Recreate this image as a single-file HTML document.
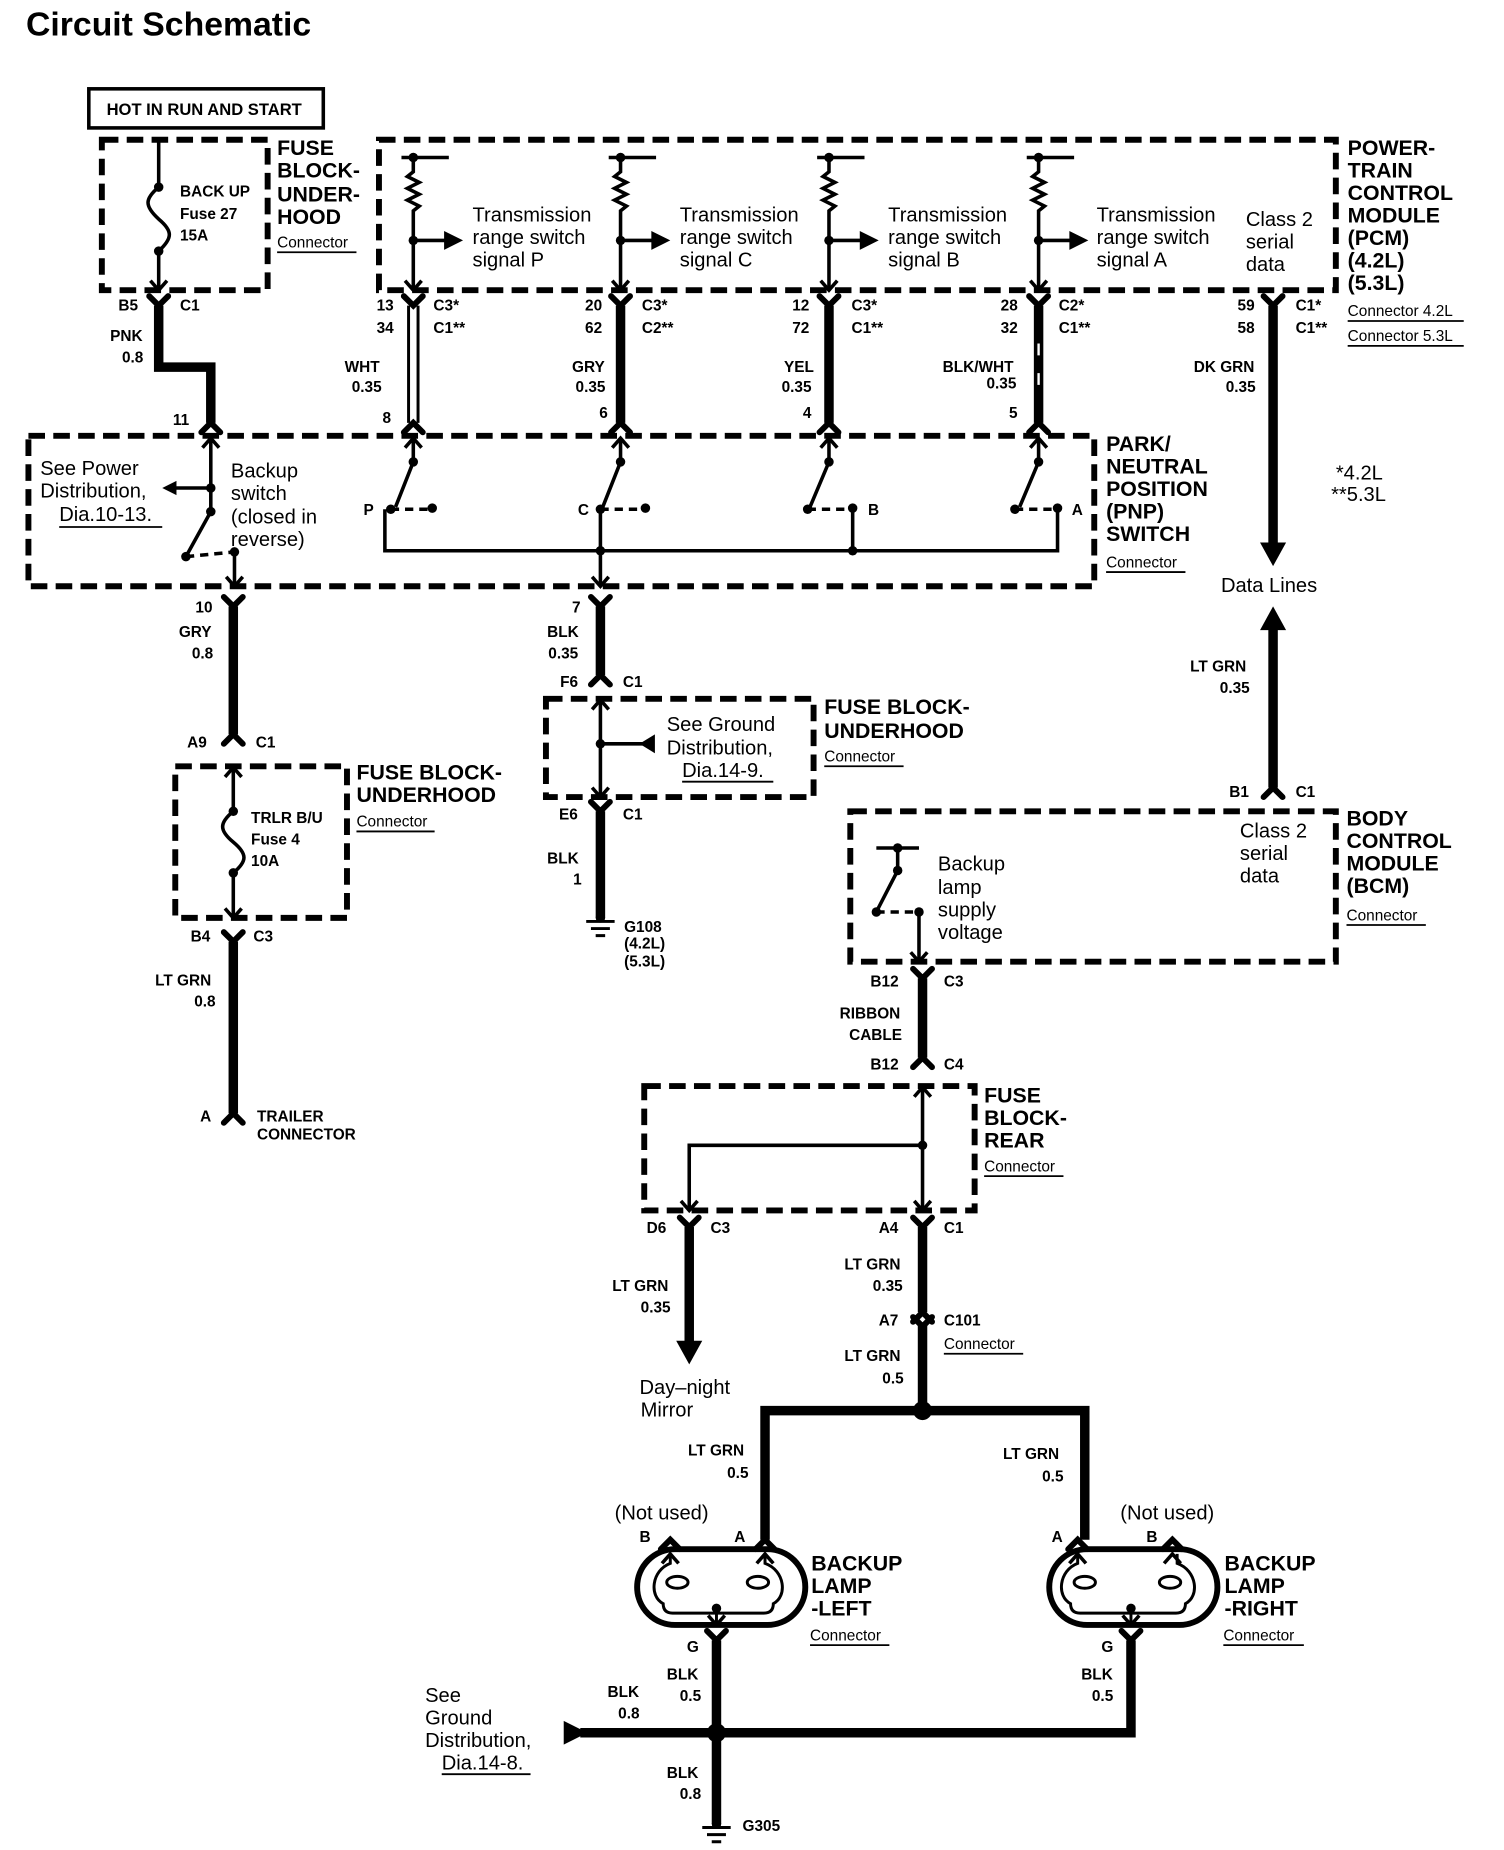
<!DOCTYPE html>
<html><head><meta charset="utf-8"><style>
html,body{margin:0;padding:0;background:#fff}
svg{display:block}
text{font-family:"Liberation Sans",Arial,sans-serif;fill:#000}
.s{font-size:13px;font-weight:bold}
.n{font-size:17px}
.b{font-size:18px;font-weight:bold}
.u{font-size:13px}
</style></head><body>
<svg width="1504" height="1850" viewBox="0 0 1270 1562" preserveAspectRatio="none" xmlns="http://www.w3.org/2000/svg">
<defs>
<path id="Y" d="M-8,-8 L0,0 L8,-8" fill="none" stroke="#000" stroke-width="5" stroke-linecap="round"/>
<path id="A" d="M-8,8 L0,0 L8,8" fill="none" stroke="#000" stroke-width="5" stroke-linecap="round"/>
<path id="up" d="M-7,8 L0,0 L7,8" fill="none" stroke="#000" stroke-width="3"/>
<path id="dn" d="M-7,-8 L0,0 L7,-8" fill="none" stroke="#000" stroke-width="3"/>
<g id="res"><line x1="-10" y1="133" x2="30" y2="133" stroke="#000" stroke-width="3"/><circle cx="0" cy="133" r="4"/>
<path d="M0,133 V145 l-5,4 l10,5 l-10,5 l10,5 l-10,5 l10,5 l-5,4 V245" fill="none" stroke="#000" stroke-width="3"/>
<circle cx="0" cy="203" r="4"/><line x1="0" y1="203" x2="28" y2="203" stroke="#000" stroke-width="3"/>
<path d="M26,195 L42,203 L26,211Z"/><use href="#dn" y="245"/></g>
</defs>
<g fill="none" stroke="#000">
<rect x="75" y="75" width="198" height="33" stroke-width="3"/>
<g stroke-width="5" stroke-dasharray="14 7">
<rect x="86" y="118" width="140" height="127"/>
<rect x="320" y="118" width="808" height="127"/>
<rect x="24" y="368" width="900" height="127"/>
<rect x="148" y="647" width="145" height="128"/>
<rect x="461" y="590" width="226" height="83"/>
<rect x="718" y="685" width="410" height="127"/>
<rect x="544" y="917" width="279" height="105"/>
</g>
<path d="M134,118 V158 M134,212 V245 M134,158 c-12,10 -12,16 0,27 c12,10 12,16 0,27" stroke-width="3"/>
<g stroke-width="8">
<path d="M134,258 V310 H178 V357"/>
<path d="M524,258 V357 M700,258 V357 M877,258 V357 M1075,258 V460 M1075,530 V665"/>
<path d="M197,512 V620 M197,795 V940 M507,512 V570 M507,685 V775 M779,826 V893"/>
<path d="M582,1036 V1135 M779,1036 V1108 M779,1118 V1191 M646,1300 V1191 H916 V1300"/>
<path d="M605,1385 V1540 M955,1385 V1463 H490"/>
</g>
<path d="M345,258 V357 M353,258 V357" stroke-width="2.5"/>
<path d="M877,290 V300 M877,315 V325" stroke="#fff" stroke-width="2"/>
<g stroke-width="3">
<path d="M178,370 V432 L157,470 M178,412 H146"/>
<path d="M157,470 L198,466" stroke-dasharray="7 5"/>
<path d="M198,466 V495"/>
<path d="M349,370 V390 L334,428 M524,370 V390 L509,428 M700,370 V390 L684,428 M877,370 V390 L861,428"/>
<path d="M330,430 H365 M507,430 H545 M682,430 H720 M857,430 H893" stroke-dasharray="7 5"/>
<path d="M325,430 V465 H893 V430 M507,430 V495 M720,430 V465"/>
<path d="M197,648 V685 M197,737 V775 M197,685 c-12,10 -12,16 0,26 c12,10 12,16 0,26"/>
<path d="M507,590 V673 M507,628 H545"/>
<path d="M740,716 H776 M758,716 V735 L740,770 M776,770 V812"/>
<path d="M740,770 L776,770" stroke-dasharray="7 5"/>
<path d="M779,917 V1022 M779,967 H582 V1022"/>
</g>
<g stroke-width="2.5"><path d="M495,778 H519 M499,784 H515 M503,790 H511 M593,1543 H617 M597,1549 H613 M601,1555 H609"/></g>
<rect x="538" y="1308" width="142" height="64" rx="32" stroke-width="5"/>
<rect x="886" y="1308" width="142" height="64" rx="32" stroke-width="5"/>
<g stroke-width="2.5">
<path d="M566,1312 V1320 c-16,6 -18,28 -6,34 q0,8 8,8 H645 q8,0 8,-8 c12,-6 10,-28 -7,-34 V1312"/>
<ellipse cx="572" cy="1336" rx="9" ry="5"/><ellipse cx="640" cy="1336" rx="9" ry="5"/>
<path d="M605,1358 V1372"/>
<path d="M910,1312 V1320 c-16,6 -18,28 -6,34 q0,8 8,8 H993 q8,0 8,-8 c12,-6 10,-28 -7,-34 V1312"/>
<ellipse cx="916" cy="1336" rx="9" ry="5"/><ellipse cx="988" cy="1336" rx="9" ry="5"/>
<path d="M955,1358 V1372"/>
</g>
<g stroke-width="1.5">
<path d="M234,213 H301 M1138,271 H1236 M1138,292 H1236 M934,483 H1001 M301,702 H367 M696,647 H763 M1137,781 H1204 M831,993 H898 M797,1143 H864 M684,1389 H751 M1033,1389 H1101"/>
<path d="M50,445 H137 M576,660 H653 M373,1498 H448"/>
</g>
</g>
<g>
<use href="#Y" x="134" y="258"/><use href="#Y" x="349" y="258"/><use href="#Y" x="524" y="258"/><use href="#Y" x="700" y="258"/><use href="#Y" x="877" y="258"/><use href="#Y" x="1075" y="258"/>
<use href="#A" x="178" y="357"/><use href="#A" x="349" y="357"/><use href="#A" x="524" y="357"/><use href="#A" x="700" y="357"/><use href="#A" x="877" y="357"/>
<use href="#Y" x="197" y="512"/><use href="#Y" x="507" y="512"/><use href="#A" x="197" y="620"/><use href="#Y" x="197" y="795"/><use href="#A" x="197" y="940"/>
<use href="#A" x="507" y="570"/><use href="#Y" x="507" y="685"/><use href="#A" x="1075" y="665"/>
<use href="#Y" x="779" y="826"/><use href="#A" x="779" y="893"/><use href="#Y" x="582" y="1036"/><use href="#Y" x="779" y="1036"/>
<use href="#A" x="779" y="1108"/><use href="#Y" x="779" y="1120"/>
<use href="#A" x="566" y="1300"/><use href="#A" x="646" y="1300"/><use href="#A" x="910" y="1300"/><use href="#A" x="990" y="1300"/>
<use href="#Y" x="605" y="1385"/><use href="#Y" x="955" y="1385"/>
<use href="#dn" x="134" y="245"/>
<use href="#res" x="349"/><use href="#res" x="524"/><use href="#res" x="700"/><use href="#res" x="877"/>
<use href="#up" x="178" y="370"/><use href="#up" x="349" y="370"/><use href="#up" x="524" y="370"/><use href="#up" x="700" y="370"/><use href="#up" x="877" y="370"/>
<use href="#dn" x="198" y="495"/><use href="#dn" x="507" y="495"/>
<use href="#up" x="197" y="648"/><use href="#dn" x="197" y="775"/>
<use href="#up" x="507" y="591"/><use href="#dn" x="507" y="673"/>
<use href="#dn" x="776" y="812"/><use href="#up" x="779" y="918"/><use href="#dn" x="779" y="1022"/><use href="#dn" x="582" y="1022"/>
<use href="#up" x="566" y="1312"/><use href="#up" x="646" y="1312"/><use href="#dn" x="605" y="1372"/>
<use href="#up" x="910" y="1312"/><use href="#up" x="990" y="1312"/><use href="#dn" x="955" y="1372"/>
</g>
<g>
<circle cx="134" cy="158" r="4"/><circle cx="134" cy="212" r="4"/>
<circle cx="178" cy="412" r="4"/><circle cx="178" cy="432" r="4"/><circle cx="157" cy="470" r="4"/><circle cx="198" cy="466" r="4"/>
<path d="M137,412 L149,406 L149,418Z"/>
<circle cx="349" cy="390" r="4"/><circle cx="330" cy="430" r="4"/><circle cx="365" cy="429" r="4"/>
<circle cx="524" cy="390" r="4"/><circle cx="507" cy="430" r="4"/><circle cx="545" cy="429" r="4"/>
<circle cx="700" cy="390" r="4"/><circle cx="682" cy="430" r="4"/><circle cx="720" cy="429" r="4"/>
<circle cx="877" cy="390" r="4"/><circle cx="857" cy="430" r="4"/><circle cx="893" cy="429" r="4"/>
<circle cx="507" cy="465" r="4"/><circle cx="720" cy="465" r="4"/>
<circle cx="197" cy="685" r="4"/><circle cx="197" cy="737" r="4"/>
<circle cx="507" cy="628" r="4"/><path d="M540,628 L553,620 L553,636Z"/>
<circle cx="507" cy="775" r="4"/><circle cx="605" cy="1540" r="4"/>
<circle cx="758" cy="716" r="4"/><circle cx="758" cy="735" r="4"/><circle cx="740" cy="770" r="4"/><circle cx="776" cy="770" r="4"/>
<circle cx="779" cy="967" r="4"/>
<path d="M1064,458 L1086,458 L1075,478Z"/><path d="M1064,532 L1086,532 L1075,512Z"/>
<path d="M571,1132 L593,1132 L582,1152Z"/>
<circle cx="779" cy="1191" r="8"/><circle cx="605" cy="1463" r="8"/><circle cx="605" cy="1358" r="4"/><circle cx="955" cy="1358" r="4"/>
<path d="M476,1453 L496,1463 L476,1473Z"/>
</g>
<text x="22" y="30" style="font-size:28.5px;font-weight:bold">Circuit Schematic</text>
<text x="90" y="97" class="s" style="font-size:14px">HOT IN RUN AND START</text>
<g class="s">
<text x="152" y="166">BACK UP</text><text x="152" y="185">Fuse 27</text><text x="152" y="203">15A</text>
<text x="100" y="262">B5</text><text x="152" y="262">C1</text>
<text x="93" y="288">PNK</text><text x="103" y="306">0.8</text>
<text x="318" y="262">13</text><text x="318" y="281">34</text><text x="366" y="262">C3*</text><text x="366" y="281">C1**</text>
<text x="494" y="262">20</text><text x="494" y="281">62</text><text x="542" y="262">C3*</text><text x="542" y="281">C2**</text>
<text x="669" y="262">12</text><text x="669" y="281">72</text><text x="719" y="262">C3*</text><text x="719" y="281">C1**</text>
<text x="845" y="262">28</text><text x="845" y="281">32</text><text x="894" y="262">C2*</text><text x="894" y="281">C1**</text>
<text x="1045" y="262">59</text><text x="1045" y="281">58</text><text x="1094" y="262">C1*</text><text x="1094" y="281">C1**</text>
<text x="291" y="314">WHT</text><text x="297" y="331">0.35</text>
<text x="483" y="314">GRY</text><text x="486" y="331">0.35</text>
<text x="662" y="314">YEL</text><text x="660" y="331">0.35</text>
<text x="796" y="314">BLK/WHT</text><text x="833" y="328">0.35</text>
<text x="1008" y="314">DK GRN</text><text x="1035" y="331">0.35</text>
<text x="146" y="359">11</text><text x="323" y="357">8</text><text x="506" y="353">6</text><text x="678" y="353">4</text><text x="852" y="353">5</text>
<text x="307" y="435">P</text><text x="488" y="435">C</text><text x="733" y="435">B</text><text x="905" y="435">A</text>
<text x="165" y="517">10</text><text x="151" y="538">GRY</text><text x="162" y="556">0.8</text>
<text x="483" y="517">7</text><text x="462" y="538">BLK</text><text x="463" y="556">0.35</text>
<text x="473" y="580">F6</text><text x="526" y="580">C1</text>
<text x="158" y="631">A9</text><text x="216" y="631">C1</text>
<text x="212" y="695">TRLR B/U</text><text x="212" y="713">Fuse 4</text><text x="212" y="731">10A</text>
<text x="472" y="692">E6</text><text x="526" y="692">C1</text>
<text x="462" y="729">BLK</text><text x="484" y="747">1</text>
<text x="527" y="787">G108</text><text x="527" y="801">(4.2L)</text><text x="527" y="816">(5.3L)</text>
<text x="161" y="795">B4</text><text x="214" y="795">C3</text>
<text x="131" y="832">LT GRN</text><text x="164" y="850">0.8</text>
<text x="169" y="947">A</text><text x="217" y="947">TRAILER</text><text x="217" y="962">CONNECTOR</text>
<text x="1005" y="567">LT GRN</text><text x="1030" y="585">0.35</text>
<text x="1038" y="673">B1</text><text x="1094" y="673">C1</text>
<text x="735" y="833">B12</text><text x="797" y="833">C3</text>
<text x="709" y="860">RIBBON</text><text x="717" y="878">CABLE</text>
<text x="735" y="903">B12</text><text x="797" y="903">C4</text>
<text x="546" y="1041">D6</text><text x="600" y="1041">C3</text>
<text x="742" y="1041">A4</text><text x="797" y="1041">C1</text>
<text x="517" y="1090">LT GRN</text><text x="541" y="1108">0.35</text>
<text x="713" y="1072">LT GRN</text><text x="737" y="1090">0.35</text>
<text x="742" y="1119">A7</text><text x="797" y="1119">C101</text>
<text x="713" y="1149">LT GRN</text><text x="745" y="1168">0.5</text>
<text x="581" y="1229">LT GRN</text><text x="614" y="1248">0.5</text>
<text x="847" y="1232">LT GRN</text><text x="880" y="1251">0.5</text>
<text x="540" y="1302">B</text><text x="620" y="1302">A</text><text x="888" y="1302">A</text><text x="968" y="1302">B</text>
<text x="580" y="1395">G</text><text x="930" y="1395">G</text>
<text x="563" y="1418">BLK</text><text x="574" y="1436">0.5</text>
<text x="913" y="1418">BLK</text><text x="922" y="1436">0.5</text>
<text x="513" y="1433">BLK</text><text x="522" y="1451">0.8</text>
<text x="563" y="1501">BLK</text><text x="574" y="1519">0.8</text>
<text x="627" y="1546">G305</text>
</g>
<g class="u">
<text x="234" y="209">Connector</text><text x="1138" y="267">Connector 4.2L</text><text x="1138" y="288">Connector 5.3L</text>
<text x="934" y="479">Connector</text><text x="301" y="698">Connector</text><text x="696" y="643">Connector</text>
<text x="1137" y="777">Connector</text><text x="831" y="989">Connector</text><text x="797" y="1139">Connector</text>
<text x="684" y="1385">Connector</text><text x="1033" y="1385">Connector</text>
</g>
<g class="b">
<text x="234" y="131">FUSE</text><text x="234" y="150">BLOCK-</text><text x="234" y="170">UNDER-</text><text x="234" y="189">HOOD</text>
<text x="1138" y="131">POWER-</text><text x="1138" y="150">TRAIN</text><text x="1138" y="169">CONTROL</text><text x="1138" y="188">MODULE</text><text x="1138" y="207">(PCM)</text><text x="1138" y="226">(4.2L)</text><text x="1138" y="245">(5.3L)</text>
<text x="934" y="381">PARK/</text><text x="934" y="400">NEUTRAL</text><text x="934" y="419">POSITION</text><text x="934" y="438">(PNP)</text><text x="934" y="457">SWITCH</text>
<text x="301" y="658">FUSE BLOCK-</text><text x="301" y="677">UNDERHOOD</text>
<text x="696" y="603">FUSE BLOCK-</text><text x="696" y="623">UNDERHOOD</text>
<text x="1137" y="697">BODY</text><text x="1137" y="716">CONTROL</text><text x="1137" y="735">MODULE</text><text x="1137" y="754">(BCM)</text>
<text x="831" y="931">FUSE</text><text x="831" y="950">BLOCK-</text><text x="831" y="969">REAR</text>
<text x="685" y="1326">BACKUP</text><text x="685" y="1345">LAMP</text><text x="685" y="1364">-LEFT</text>
<text x="1034" y="1326">BACKUP</text><text x="1034" y="1345">LAMP</text><text x="1034" y="1364">-RIGHT</text>
</g>
<g class="n">
<text x="399" y="187">Transmission</text><text x="399" y="206">range switch</text><text x="399" y="225">signal P</text>
<text x="574" y="187">Transmission</text><text x="574" y="206">range switch</text><text x="574" y="225">signal C</text>
<text x="750" y="187">Transmission</text><text x="750" y="206">range switch</text><text x="750" y="225">signal B</text>
<text x="926" y="187">Transmission</text><text x="926" y="206">range switch</text><text x="926" y="225">signal A</text>
<text x="1052" y="191">Class 2</text><text x="1052" y="210">serial</text><text x="1052" y="229">data</text>
<text x="34" y="401">See Power</text><text x="34" y="420">Distribution,</text><text x="50" y="440">Dia.10-13.</text>
<text x="195" y="403">Backup</text><text x="195" y="422">switch</text><text x="195" y="442">(closed in</text><text x="195" y="461">reverse)</text>
<text x="1128" y="405">*4.2L</text><text x="1124" y="423">**5.3L</text>
<text x="1031" y="500">Data Lines</text>
<text x="563" y="617">See Ground</text><text x="563" y="637">Distribution,</text><text x="576" y="656">Dia.14-9.</text>
<text x="792" y="735">Backup</text><text x="792" y="755">lamp</text><text x="792" y="774">supply</text><text x="792" y="793">voltage</text>
<text x="1047" y="707">Class 2</text><text x="1047" y="726">serial</text><text x="1047" y="745">data</text>
<text x="540" y="1177">Day–night</text><text x="541" y="1196">Mirror</text>
<text x="519" y="1283">(Not used)</text><text x="946" y="1283">(Not used)</text>
<text x="359" y="1437">See</text><text x="359" y="1456">Ground</text><text x="359" y="1475">Distribution,</text><text x="373" y="1494">Dia.14-8.</text>
</g>
</svg>
</body></html>
